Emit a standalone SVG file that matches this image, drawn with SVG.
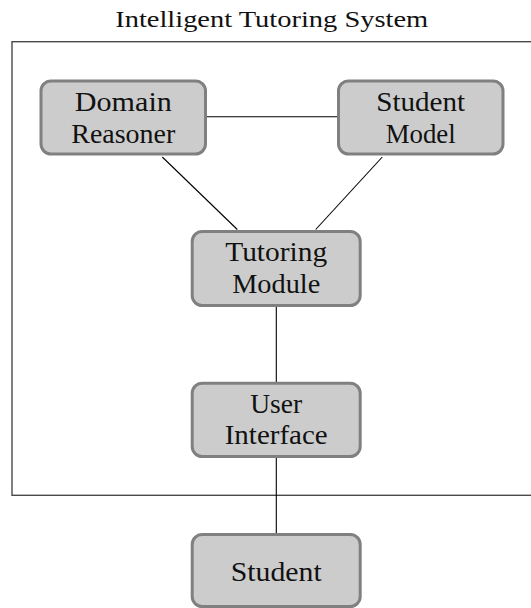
<svg xmlns="http://www.w3.org/2000/svg" width="531" height="608" viewBox="0 0 531 608">
<style>
.box{fill:#cccccc;stroke:#808080;stroke-width:3}
.t{font-family:"Liberation Serif","DejaVu Serif",serif;font-size:26.5px;fill:#111;text-anchor:middle}
.title{font-size:24px}
.c{stroke:#000;stroke-width:1.1;fill:none}
</style>
<rect x="12" y="41.7" width="530" height="453.6" fill="none" stroke="#4a4a4a" stroke-width="1.4"/>
<text class="t title" x="271.7" y="26.7" textLength="313" lengthAdjust="spacingAndGlyphs">Intelligent Tutoring System</text>
<g id="connectors">
<line class="c" x1="207" y1="116.7" x2="337" y2="116.7"/>
<line class="c" x1="162.3" y1="157" x2="237.3" y2="229.5"/>
<line class="c" x1="382.3" y1="157" x2="315.7" y2="229.5"/>
<line class="c" x1="276.3" y1="307" x2="276.3" y2="382"/>
<line class="c" x1="276.3" y1="458" x2="276.3" y2="533"/>
</g>
<g id="domain-reasoner">
<rect class="box" x="41" y="81" width="164.5" height="73" rx="10"/>
<text class="t" x="123.3" y="111" textLength="97" lengthAdjust="spacingAndGlyphs">Domain</text>
<text class="t" x="123.3" y="143.3" textLength="104" lengthAdjust="spacingAndGlyphs">Reasoner</text>
</g>
<g id="student-model">
<rect class="box" x="338.5" y="81" width="164.5" height="73" rx="10"/>
<text class="t" x="420.7" y="111" textLength="89" lengthAdjust="spacingAndGlyphs">Student</text>
<text class="t" x="420.7" y="143.3" textLength="70" lengthAdjust="spacingAndGlyphs">Model</text>
</g>
<g id="tutoring-module">
<rect class="box" x="192.2" y="231.5" width="168" height="74" rx="10"/>
<text class="t" x="276.2" y="261" textLength="102" lengthAdjust="spacingAndGlyphs">Tutoring</text>
<text class="t" x="276.2" y="292.5" textLength="88" lengthAdjust="spacingAndGlyphs">Module</text>
</g>
<g id="user-interface">
<rect class="box" x="192.2" y="383.2" width="168" height="73.3" rx="10"/>
<text class="t" x="276.2" y="412.5" textLength="52" lengthAdjust="spacingAndGlyphs">User</text>
<text class="t" x="276.2" y="444.3" textLength="103" lengthAdjust="spacingAndGlyphs">Interface</text>
</g>
<g id="student">
<rect class="box" x="192.2" y="534.5" width="168" height="72" rx="10"/>
<text class="t" x="276.2" y="580.5" textLength="91" lengthAdjust="spacingAndGlyphs">Student</text>
</g>
</svg>
